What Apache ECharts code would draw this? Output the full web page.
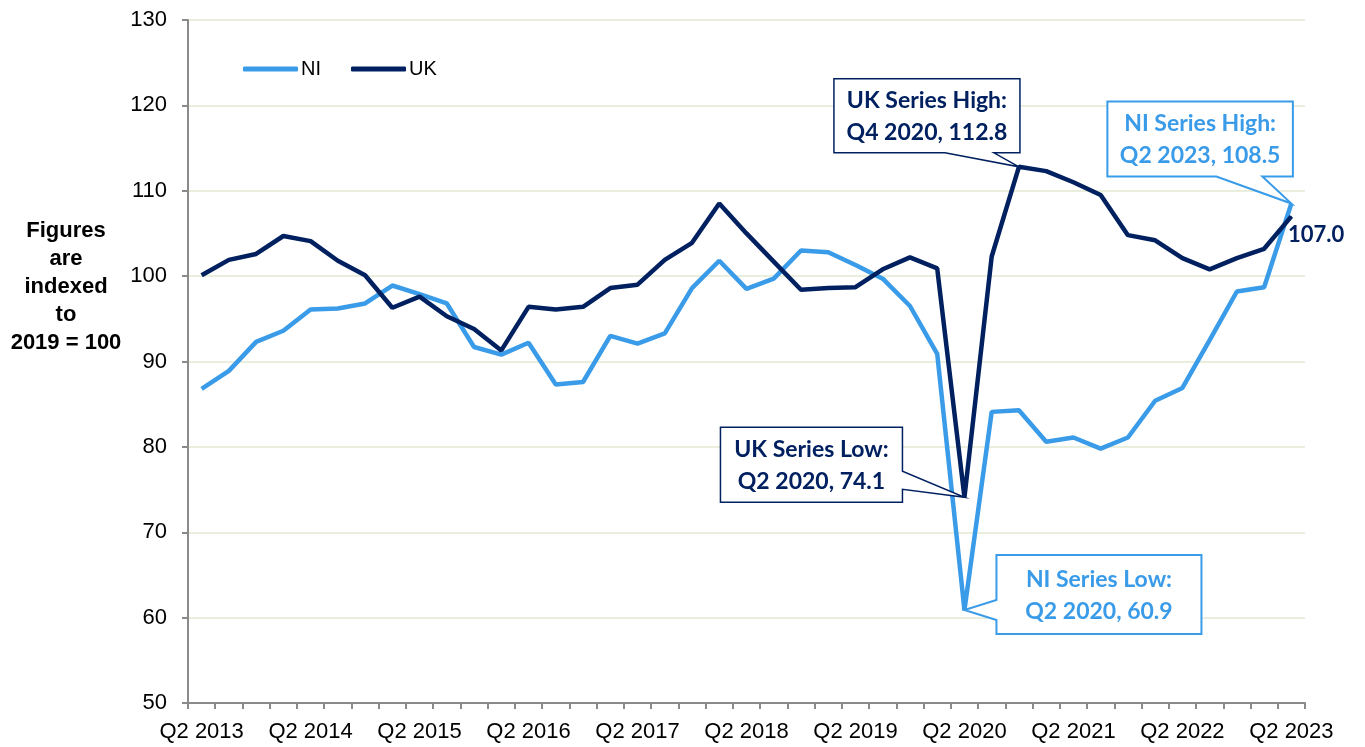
<!DOCTYPE html>
<html><head><meta charset="utf-8">
<script src="https://cdn.jsdelivr.net/npm/echarts@6/dist/echarts.min.js"></script>
<style>html,body{margin:0;padding:0;background:#fff}#c{width:1365px;height:747px}</style>
</head><body><div id="c"></div>
<script>
const categories = [
 'Q2 2013','Q3 2013','Q4 2013','Q1 2014','Q2 2014','Q3 2014','Q4 2014','Q1 2015',
 'Q2 2015','Q3 2015','Q4 2015','Q1 2016','Q2 2016','Q3 2016','Q4 2016','Q1 2017',
 'Q2 2017','Q3 2017','Q4 2017','Q1 2018','Q2 2018','Q3 2018','Q4 2018','Q1 2019',
 'Q2 2019','Q3 2019','Q4 2019','Q1 2020','Q2 2020','Q3 2020','Q4 2020','Q1 2021',
 'Q2 2021','Q3 2021','Q4 2021','Q1 2022','Q2 2022','Q3 2022','Q4 2022','Q1 2023',
 'Q2 2023'
];
const niValues = [
 86.8, 88.9, 92.3, 93.6, 96.1, 96.2, 96.8, 98.9, 97.9, 96.8,
 91.7, 90.8, 92.2, 87.3, 87.6, 93.0, 92.1, 93.3, 98.6, 101.8,
 98.5, 99.7, 103.0, 102.8, 101.3, 99.7, 96.5, 90.9, 60.9, 84.1,
 84.3, 80.6, 81.1, 79.8, 81.1, 85.4, 86.9, 92.5, 98.2, 98.7, 108.5
];
const ukValues = [
 100.1, 101.9, 102.6, 104.7, 104.1, 101.8, 100.1, 96.3, 97.6, 95.3,
 93.8, 91.3, 96.4, 96.1, 96.4, 98.6, 99.0, 101.9, 103.9, 108.5,
 105.0, 101.7, 98.4, 98.6, 98.7, 100.8, 102.2, 100.9, 74.1, 102.3,
 112.8, 112.3, 111.0, 109.5, 104.8, 104.2, 102.1, 100.8, 102.1, 103.2, 107.0
];
const seriesNames = ['NI', 'UK'];
const yMin = 50, yMax = 130, yStep = 10;
const yAxisTitle = ['Figures', 'are', 'indexed', 'to', '2019 = 100'];

const NI_COLOR = '#3A9BE8';
const UK_COLOR = '#002060';
const LABEL_FONT = 'Lato';

const chart = echarts.init(document.getElementById('c'));
const lastIdx = ukValues.length - 1;

const option = {
  animation: false,
  backgroundColor: '#fff',
  grid: { left: 188, right: 60, top: 20, bottom: 44, containLabel: false },
  legend: {
    left: 238, top: 54,
    icon: 'roundRect', itemWidth: 55, itemHeight: 5, itemGap: 30,
    textStyle: { fontFamily: 'Liberation Sans', fontSize: 20, color: '#000', padding: [0, 0, 0, -2] },
    data: seriesNames
  },
  xAxis: {
    type: 'category', data: categories, boundaryGap: true,
    axisLine: { show: true, lineStyle: { color: '#8a8a8a', width: 2 } },
    axisTick: { show: true, interval: 0, length: 6, lineStyle: { color: '#8a8a8a', width: 2 } },
    axisLabel: { interval: 3, margin: 18, fontFamily: 'Liberation Sans', fontSize: 22, color: '#000' },
    splitLine: { show: false }
  },
  yAxis: {
    type: 'value', min: yMin, max: yMax, interval: yStep,
    axisLine: { show: true, lineStyle: { color: '#8a8a8a', width: 2 } },
    axisTick: { show: true, length: 6, lineStyle: { color: '#8a8a8a', width: 2 } },
    axisLabel: { margin: 21, fontFamily: 'Liberation Sans', fontSize: 22, color: '#000' },
    splitLine: { show: true, lineStyle: { color: '#E2EAD0', width: 1.5 } }
  },
  series: [
    {
      name: seriesNames[0], type: 'line', data: niValues, symbol: 'none', smooth: false,
      lineStyle: { color: NI_COLOR, width: 4.5 }, itemStyle: { color: NI_COLOR }, z: 2
    },
    {
      name: seriesNames[1], type: 'line', symbol: 'circle', symbolSize: 1, showSymbol: true, smooth: false,
      data: ukValues.map((v, i) => i === lastIdx ? {
        value: v,
        label: { show: true, position: 'right', distance: 0, offset: [-4, 19],
          formatter: (p) => Number(p.value).toFixed(1),
          fontFamily: LABEL_FONT, fontWeight: 'bold', fontSize: 22, color: UK_COLOR }
      } : { value: v, symbolSize: 0 }),
      lineStyle: { color: UK_COLOR, width: 4.5 }, itemStyle: { color: UK_COLOR }, z: 3
    }
  ]
};
chart.setOption(option);

function idxOf(arr, fn) { const t = fn(...arr); return arr.indexOf(t); }
const niMaxI = idxOf(niValues, Math.max), niMinI = idxOf(niValues, Math.min);
const ukMaxI = idxOf(ukValues, Math.max), ukMinI = idxOf(ukValues, Math.min);

const callouts = [
  { name: 'UK Series High:', s: ukValues, i: ukMaxI, color: UK_COLOR, box: [-185, -88, 1, -14], wedge: { side: 'bottom', a: -74, b: -25 }, lw: 1.5 },
  { name: 'NI Series High:', s: niValues, i: niMaxI, color: NI_COLOR, box: [-184, -102, 1.5, -27], wedge: { side: 'bottom', a: -75, b: -29 }, lw: 2 },
  { name: 'UK Series Low:', s: ukValues, i: ukMinI, color: UK_COLOR, box: [-244, -70, -62, 5], wedge: { side: 'right', a: -26, b: -8 }, lw: 1.5 },
  { name: 'NI Series Low:', s: niValues, i: niMinI, color: NI_COLOR, box: [32, -55, 237, 24], wedge: { side: 'left', a: -10, b: 10 }, lw: 2 }
];

const graphics = [];
callouts.forEach((c) => {
  const p = chart.convertToPixel({ gridIndex: 0 }, [c.i, c.s[c.i]]);
  const tx = p[0], ty = p[1];
  const L = tx + c.box[0], T = ty + c.box[1], R = tx + c.box[2], B = ty + c.box[3];
  let pts;
  if (c.wedge.side === 'bottom') {
    pts = [[L, T], [R, T], [R, B], [tx + c.wedge.b, B], [tx, ty], [tx + c.wedge.a, B], [L, B]];
  } else if (c.wedge.side === 'right') {
    pts = [[L, T], [R, T], [R, ty + c.wedge.a], [tx, ty], [R, ty + c.wedge.b], [R, B], [L, B]];
  } else {
    pts = [[L, T], [R, T], [R, B], [L, B], [L, ty + c.wedge.b], [tx, ty], [L, ty + c.wedge.a]];
  }
  graphics.push({
    type: 'polygon', z: 100,
    shape: { points: pts },
    style: { fill: '#fff', stroke: c.color, lineWidth: c.lw }
  });
  graphics.push({
    type: 'text', z: 101,
    style: {
      text: c.name + '\n' + categories[c.i] + ', ' + c.s[c.i].toFixed(1),
      x: (L + R) / 2, y: (T + B) / 2 + 1,
      align: 'center', verticalAlign: 'middle',
      fontFamily: LABEL_FONT, fontWeight: 'bold', fontSize: 23, lineHeight: 32,
      fill: c.color
    }
  });
});
graphics.push({
  type: 'text', z: 101,
  style: {
    text: yAxisTitle.join('\n'), x: 66, y: 287,
    align: 'center', verticalAlign: 'middle',
    fontFamily: 'Liberation Sans', fontWeight: 'bold', fontSize: 22, lineHeight: 28, fill: '#000'
  }
});
chart.setOption({ graphic: graphics });
</script>
</body></html>
